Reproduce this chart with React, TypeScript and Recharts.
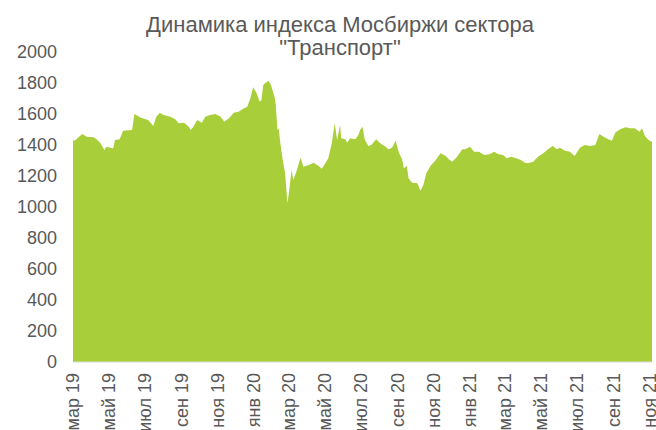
import React from 'react';
import { AreaChart, Area, XAxis, YAxis } from 'recharts';

const dates: string[] = [
  '2019-03-01','2019-03-04','2019-03-10','2019-03-17','2019-03-24','2019-04-05','2019-04-10','2019-04-16','2019-04-23','2019-04-27',
  '2019-05-08','2019-05-11','2019-05-19','2019-05-25','2019-06-09','2019-06-13','2019-06-23','2019-07-06','2019-07-15','2019-07-20',
  '2019-07-26','2019-08-01','2019-08-13','2019-08-21','2019-08-27','2019-09-05','2019-09-13','2019-09-16','2019-09-21','2019-09-27',
  '2019-10-05','2019-10-11','2019-10-19','2019-10-28','2019-11-06','2019-11-12','2019-11-20','2019-11-28','2019-12-06','2019-12-15',
  '2019-12-21','2019-12-26','2019-12-31','2020-01-06','2020-01-11','2020-01-14','2020-01-17','2020-01-21','2020-01-26','2020-01-30',
  '2020-02-05','2020-02-07','2020-02-10','2020-02-12','2020-02-15','2020-02-19','2020-02-23','2020-02-27','2020-03-01','2020-03-05',
  '2020-03-08','2020-03-14','2020-03-20','2020-03-25','2020-04-03','2020-04-11','2020-04-20','2020-04-25','2020-05-01','2020-05-06',
  '2020-05-12','2020-05-17','2020-05-21','2020-05-26','2020-05-28','2020-06-04','2020-06-07','2020-06-12','2020-06-21','2020-06-26',
  '2020-06-29','2020-07-03','2020-07-07','2020-07-13','2020-07-18','2020-07-26','2020-08-02','2020-08-11','2020-08-16','2020-08-22',
  '2020-08-28','2020-09-03','2020-09-08','2020-09-11','2020-09-16','2020-09-19','2020-09-25','2020-10-04','2020-10-09','2020-10-14',
  '2020-10-19','2020-10-26','2020-11-04','2020-11-12','2020-11-21','2020-11-26','2020-12-02','2020-12-10','2020-12-19','2020-12-24',
  '2021-01-01','2021-01-08','2021-01-16','2021-01-25','2021-02-03','2021-02-11','2021-02-18','2021-02-26','2021-03-04','2021-03-12',
  '2021-03-20','2021-03-28','2021-04-04','2021-04-09','2021-04-18','2021-04-26','2021-05-05','2021-05-13','2021-05-21','2021-05-28',
  '2021-06-02','2021-06-11','2021-06-19','2021-06-27','2021-07-06','2021-07-14','2021-07-23','2021-08-01','2021-08-08','2021-08-15',
  '2021-08-23','2021-08-29','2021-09-04','2021-09-12','2021-09-21','2021-09-29','2021-10-07','2021-10-15','2021-10-19','2021-10-24',
  '2021-10-30','2021-11-05',
];

const values: number[] = [
  1432,1428,1450,1471,1454,1450,1437,1415,1368,1389,
  1378,1432,1437,1492,1497,1600,1578,1561,1523,1583,
  1608,1594,1583,1566,1540,1544,1518,1497,1518,1561,
  1544,1583,1594,1600,1583,1550,1573,1608,1615,1636,
  1647,1700,1772,1733,1679,1690,1787,1802,1815,1787,
  1712,1669,1497,1508,1411,1303,1217,1024,1110,1239,
  1174,1239,1320,1260,1271,1286,1264,1247,1282,1314,
  1411,1540,1432,1529,1443,1437,1415,1443,1437,1465,
  1497,1518,1432,1394,1400,1437,1411,1389,1372,1383,
  1428,1346,1308,1250,1264,1185,1157,1153,1105,1142,
  1217,1265,1303,1346,1329,1308,1292,1325,1372,1372,
  1389,1357,1357,1335,1341,1357,1341,1335,1314,1325,
  1314,1303,1286,1282,1292,1325,1346,1372,1394,1372,
  1383,1363,1357,1329,1383,1400,1394,1400,1471,1454,
  1437,1428,1480,1501,1514,1508,1508,1486,1508,1458,
  1432,1421,
];

const tickDates: string[] = [
  '2019-03-01','2019-05-01','2019-07-01','2019-09-01','2019-11-01','2020-01-01','2020-03-01','2020-05-01','2020-07-01',
  '2020-09-01','2020-11-01','2021-01-01','2021-03-01','2021-05-01','2021-07-01','2021-09-01','2021-11-01',
];
const tickLabels: string[] = [
  'мар 19','май 19','июл 19','сен 19','ноя 19','янв 20','мар 20','май 20','июл 20',
  'сен 20','ноя 20','янв 21','мар 21','май 21','июл 21','сен 21','ноя 21',
];
const yTicks: number[] = [0, 200, 400, 600, 800, 1000, 1200, 1400, 1600, 1800, 2000];
const titleLines: string[] = ['Динамика индекса Мосбиржи сектора', '"Транспорт"'];

const toTs = (d: string) => Date.parse(d + 'T00:00:00Z');
const data = dates.map((d, i) => ({ t: toTs(d), v: values[i] }));
const xTicks = tickDates.map(toTs);
const labelFor = (ts: number) => {
  const i = xTicks.indexOf(ts);
  return i >= 0 ? tickLabels[i] : '';
};

const FONT = '"Liberation Sans", Arial, sans-serif';
const GREY = '#595959';

const XTick = (props: any) => {
  const { x, y, payload } = props;
  const ty = y + 3;
  return (
    <text
      x={x}
      y={ty}
      transform={`rotate(-90, ${x}, ${ty})`}
      textAnchor="end"
      dominantBaseline="central"
      fill={GREY}
      fontSize={18}
      fontFamily={FONT}
    >
      {labelFor(payload.value)}
    </text>
  );
};

export default function App() {
  return (
    <div style={{ position: 'absolute', left: 0, top: 0, width: 656, height: 430, background: '#fff' }}>
      <div
        style={{
          position: 'absolute',
          left: 0,
          top: 13,
          width: 680,
          textAlign: 'center',
          fontFamily: FONT,
          fontSize: 22,
          lineHeight: '23px',
          color: GREY,
          whiteSpace: 'nowrap',
        }}
      >
        {titleLines[0]}
        <br />
        {titleLines[1]}
      </div>
      <AreaChart width={656} height={430} data={data} margin={{ top: 52, right: 4, bottom: 0, left: 0 }}>
        <XAxis
          dataKey="t"
          type="number"
          scale="time"
          domain={['dataMin', 'dataMax']}
          ticks={xTicks}
          interval={0}
          tick={<XTick />}
          tickLine={false}
          axisLine={{ stroke: '#d9d9d9', strokeWidth: 1 }}
          height={68}
        />
        <YAxis
          type="number"
          domain={[0, 2000]}
          ticks={yTicks}
          interval={0}
          tickLine={false}
          axisLine={false}
          width={73}
          tickMargin={10}
          tick={{ fill: GREY, fontSize: 18, fontFamily: FONT }}
        />
        <Area
          type="linear"
          dataKey="v"
          stroke="none"
          fill="#a8ce3a"
          fillOpacity={1}
          isAnimationActive={false}
        />
      </AreaChart>
    </div>
  );
}
